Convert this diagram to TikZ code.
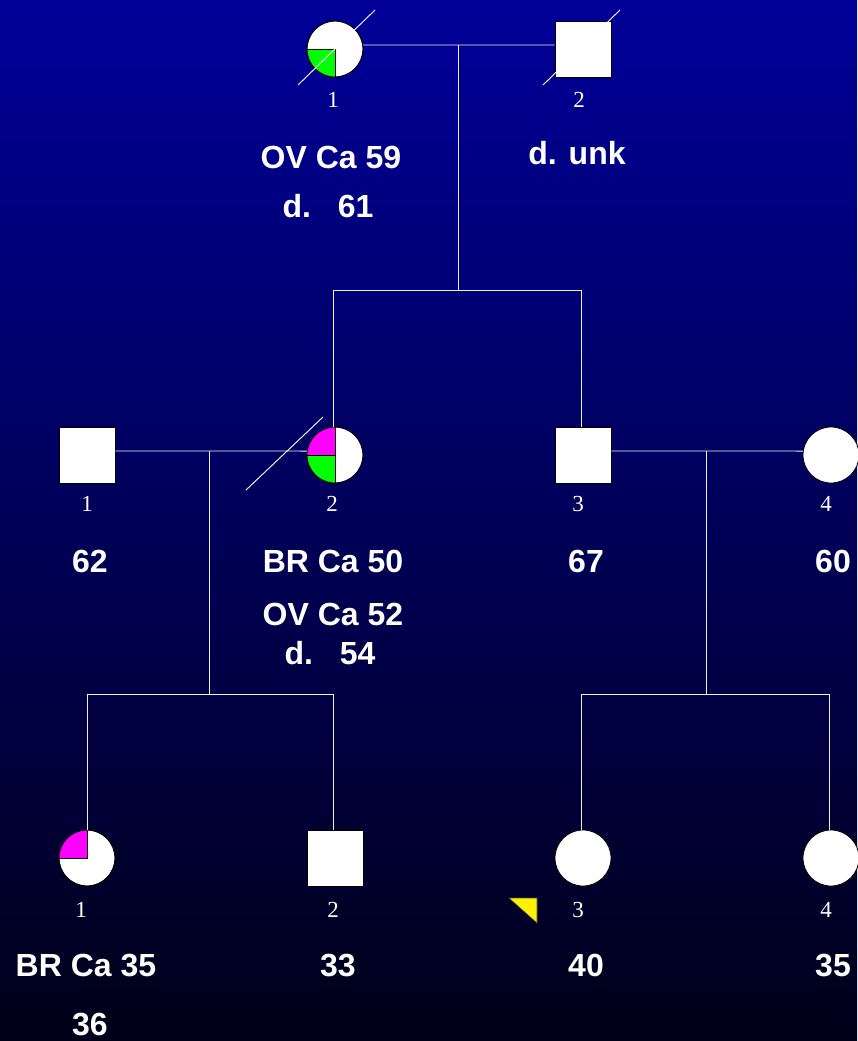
\documentclass[tikz,border=0pt]{standalone}
\usepackage{fontspec}
\usetikzlibrary{calc}
\setmainfont{Liberation Sans}
\newfontfamily\numfont{Liberation Serif}
\definecolor{bgtop}{RGB}{0,0,153}
\definecolor{bgbottom}{RGB}{0,0,24}
\definecolor{linecol}{RGB}{238,238,250}
\definecolor{affgreen}{RGB}{0,255,0}
\definecolor{affpink}{RGB}{255,0,255}
\begin{document}
\begin{tikzpicture}[x=1pt,y=-1pt,
  female/.style={circle,draw=black,line width=0.8pt,fill=white,minimum size=56pt,inner sep=0pt},
  male/.style={rectangle,draw=black,line width=0.8pt,fill=white,minimum size=56pt,inner sep=0pt},
  link/.style={draw=linecol,line width=0.9pt},
  slash/.style={draw=white,line width=0.9pt},
  idnum/.style={anchor=base,inner sep=0pt,text=white,font=\numfont\fontsize{23}{23}\selectfont},
  info/.style={anchor=base,inner sep=0pt,text=white,font=\fontsize{32}{32}\selectfont\bfseries}]
\useasboundingbox (0,0) rectangle (857,1041);
\fill[top color=bgtop,bottom color=bgbottom] (0,0) rectangle (857,1041);

% ---- generation I ----
\node[female] (I1) at (335,49) {};
\node[male]   (I2) at (583,49) {};
\fill[affgreen] (I1.center) -- ++(-28,0) arc[start angle=180,end angle=90,radius=28] -- cycle;
\draw[black,line width=0.8pt] (I1.west) -- (I1.center) -- (I1.south);
\draw[black,line width=0.8pt] (I1) circle[radius=28];
\coordinate (m1) at (458,45);
\draw[link] (I1.8) -- (m1) -- ($(I2.west)+(0,-4)$);
\coordinate (s1) at (458,290);
\draw[link] (m1) -- (s1);
\coordinate (s1l) at (333,290);
\coordinate (s1r) at (581,290);
\draw[link] (s1l) -- (s1r);
\draw[slash] (298,85) -- (375,10);
\draw[slash] (543,85) -- (620,10);
\node[idnum] (nI1) at (333,107) {1};
\node[idnum] (nI2) at (579,107) {2};
\node[info] (tI1a) at (331,168) {OV Ca 59};
\node[info] (tI1b) at (328,217) {d.\ \ \ 61};
\node[info] (tI2a) at (577,164) {d. unk};

% ---- generation II ----
\node[male]   (II1) at (87,455) {};
\node[female] (II2) at (335,455) {};
\node[male]   (II3) at (583,455) {};
\node[female] (II4) at (831,455) {};
\fill[affpink] (II2.center) -- ++(-28,0) arc[start angle=180,end angle=270,radius=28] -- cycle;
\fill[affgreen] (II2.center) -- ++(-28,0) arc[start angle=180,end angle=90,radius=28] -- cycle;
\draw[black,line width=0.8pt] (II2.west) -- (II2.center) (II2.north) -- (II2.south);
\draw[black,line width=0.8pt] (II2) circle[radius=28];
\draw[link] (s1l) -- (s1l |- II2.north);
\draw[link] (s1r) -- (s1r |- II3.north);

\coordinate (m2) at (209,451);
\coordinate (m3) at (706,451);
\draw[link] ($(II1.east)+(0,-4)$) -- (m2) -- (II2.172);
\draw[link] ($(II3.east)+(0,-4)$) -- (m3) -- (II4.172);
\coordinate (s2) at (209,694);
\coordinate (s3) at (706,694);
\draw[link] (m2) -- (s2);
\draw[link] (m3) -- (s3);
\coordinate (s2l) at (87,694);
\coordinate (s2r) at (333,694);
\coordinate (s3l) at (581,694);
\coordinate (s3r) at (829,694);
\draw[link] (s2l) -- (s2r);
\draw[link] (s3l) -- (s3r);
\draw[slash] (246,490) -- (323,417);
\node[idnum] (nII1) at (87,511) {1};
\node[idnum] (nII2) at (332,511) {2};
\node[idnum] (nII3) at (578,511) {3};
\node[idnum] (nII4) at (826,511) {4};
\node[info] (tII1) at (90,572) {62};
\node[info] (tII2a) at (333,572) {BR Ca 50};
\node[info] (tII2b) at (333,625) {OV Ca 52};
\node[info] (tII2c) at (330,664) {d.\ \ \ 54};
\node[info] (tII3) at (586,572) {67};
\node[info] (tII4) at (833,572) {60};

% ---- generation III ----
\node[female] (III1) at (87,858) {};
\node[male]   (III2) at (335,858) {};
\node[female] (III3) at (583,858) {};
\node[female] (III4) at (831,858) {};
\fill[affpink] (III1.center) -- ++(-28,0) arc[start angle=180,end angle=270,radius=28] -- cycle;
\draw[black,line width=0.8pt] (III1.west) -- (III1.center) -- (III1.north);
\draw[black,line width=0.8pt] (III1) circle[radius=28];
\draw[link] (s2l) -- (s2l |- III1.north);
\draw[link] (s2r) -- (s2r |- III2.north);
\draw[link] (s3l) -- (s3l |- III3.north);
\draw[link] (s3r) -- (s3r |- III4.north);
% proband marker
\filldraw[fill=yellow,draw=black!70,line width=0.6pt] (509,898) -- (537,898) -- (537,923) -- cycle;
\node[idnum] (nIII1) at (81,917) {1};
\node[idnum] (nIII2) at (333,917) {2};
\node[idnum] (nIII3) at (578,917) {3};
\node[idnum] (nIII4) at (826,917) {4};
\node[info] (tIII1a) at (86,976) {BR Ca 35};
\node[info] (tIII1b) at (90,1035) {36};
\node[info] (tIII2) at (338,976) {33};
\node[info] (tIII3) at (586,976) {40};
\node[info] (tIII4) at (833,976) {35};
\end{tikzpicture}
\end{document}
